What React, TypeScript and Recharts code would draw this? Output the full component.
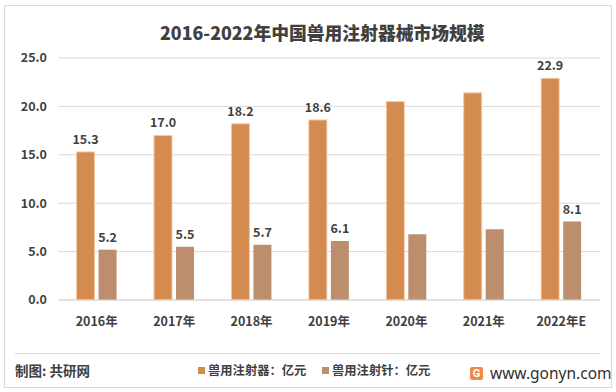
import React from 'react';
import { BarChart, Bar, XAxis, YAxis, CartesianGrid, LabelList } from 'recharts';

const years = ['2016年', '2017年', '2018年', '2019年', '2020年', '2021年', '2022年E'];
const injectors = [15.3, 17.0, 18.2, 18.6, 20.5, 21.4, 22.9];
const needles = [5.2, 5.5, 5.7, 6.1, 6.8, 7.3, 8.1];
// 2020 and 2021 carry no value labels in the source picture
const labelled = [true, true, true, true, false, false, true];
const yTicks = [0, 5, 10, 15, 20, 25];

const ORANGE = '#D38B4F';
const BROWN = '#BD8E6E';
const FONT = '"Noto Sans CJK SC", "Noto Sans", sans-serif';

const data = years.map((name, i) => ({
    name,
    injector: injectors[i],
    needle: needles[i],
    injectorLabel: labelled[i] ? injectors[i].toFixed(1) : null,
    needleLabel: labelled[i] ? needles[i].toFixed(1) : null,
}));

const renderLabel = (props: any) => {
    const { x, y, width, value } = props;
    if (value === null || value === undefined || value === '') return null;
    return (
        <text x={x + width / 2} y={y - 8} textAnchor="middle" fontSize={12.5} fontWeight={600}
              fill="#404040" fontFamily={FONT}>
            {value}
        </text>
    );
};

export default function App() {
    return (
        <div style={{ position: 'absolute', left: 0, top: 0, width: 616, height: 392, background: '#fff', fontFamily: FONT }}>
            <div style={{ position: 'absolute', left: 4, top: 5, width: 606, height: 381, border: '1px solid #d9d9d9' }} />
            <div style={{ position: 'absolute', left: 160, top: 19, whiteSpace: 'nowrap', fontSize: 17.8, fontWeight: 800, color: '#404040' }}>
                2016-2022年中国兽用注射器械市场规模
            </div>
            <div style={{ position: 'absolute', left: 0, top: 0 }}>
                <BarChart width={616} height={392} data={data} margin={{ top: 58, right: 16, left: 0, bottom: 62 }}
                          barCategoryGap="24%" barGap={4}>
                    <CartesianGrid vertical={false} stroke="#d9d9d9" />
                    <XAxis dataKey="name" tickLine={false} axisLine={{ stroke: '#d9d9d9' }} height={30} tickMargin={11}
                           tick={{ fontSize: 12.5, fill: '#404040', fontWeight: 600, fontFamily: FONT }} interval={0} />
                    <YAxis width={58} domain={[0, 25]} ticks={yTicks} tickLine={false} axisLine={false} tickSize={0}
                           tickMargin={11} tickFormatter={(v: number) => v.toFixed(1)}
                           tick={{ fontSize: 12.5, fill: '#404040', fontWeight: 600, fontFamily: FONT }} />
                    <Bar dataKey="injector" fill={ORANGE} stroke="#F2C9A6" strokeWidth={1} isAnimationActive={false}>
                        <LabelList dataKey="injectorLabel" content={renderLabel} />
                    </Bar>
                    <Bar dataKey="needle" fill={BROWN} isAnimationActive={false}>
                        <LabelList dataKey="needleLabel" content={renderLabel} />
                    </Bar>
                </BarChart>
            </div>
            <div style={{ position: 'absolute', left: 15, top: 353, width: 585, height: 1, background: '#d9d9d9' }} />
            <div style={{ position: 'absolute', left: 15, top: 360, fontSize: 13.5, fontWeight: 600, color: '#404040' }}>
                制图: 共研网
            </div>
            <div style={{ position: 'absolute', left: 198, top: 361, display: 'flex', alignItems: 'center', whiteSpace: 'nowrap',
                fontSize: 12.3, color: '#404040', fontWeight: 600 }}>
                <span style={{ display: 'inline-block', width: 7, height: 7, background: ORANGE, marginRight: 3 }} />
                <span style={{ width: 114 }}>兽用注射器：亿元</span>
                <span style={{ display: 'inline-block', width: 7, height: 7, background: BROWN, marginRight: 3 }} />
                <span>兽用注射针：亿元</span>
            </div>
            <div style={{ position: 'absolute', left: 470, top: 362, display: 'flex', alignItems: 'center' }}>
                <span style={{ display: 'inline-block', width: 13, height: 13, borderRadius: 2, background: '#F08A4B', color: '#fff',
                    fontSize: 11, fontWeight: 700, lineHeight: '13px', textAlign: 'center', fontFamily: 'Roboto, sans-serif', marginRight: 7 }}>G</span>
                <span style={{ fontSize: 15.5, color: '#303030', fontFamily: '"Noto Sans", sans-serif' }}>www.gonyn.com</span>
            </div>
        </div>
    );
}
